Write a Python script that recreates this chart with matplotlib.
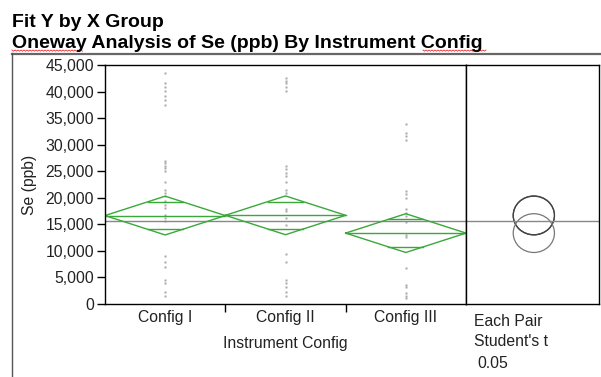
import numpy as np
import matplotlib
matplotlib.use('Agg')
import matplotlib.pyplot as plt
from matplotlib.patches import Ellipse
from matplotlib.ticker import FixedLocator, FuncFormatter

plt.rcParams['font.family'] = ['Liberation Sans', 'DejaVu Sans']

groups = ['Config I', 'Config II', 'Config III']

# Se (ppb) values for each instrument config
se_cfg1 = [43500, 41540, 40780, 40030, 39200, 38440, 37440,
           26900, 26470, 25960, 25520, 25010, 22940,
           21550, 20930, 20290, 19350, 18720, 18090,
           16830, 16200, 15560, 9080, 8000, 7050, 4540, 3910, 2210, 1570]
se_cfg2 = [42540, 42040, 41540, 40780, 40030,
           25960, 25330, 24710, 24070, 22940, 21550, 20930,
           17960, 17450, 16200, 14800, 9400, 8000,
           4540, 3910, 3280, 2210, 1570]
se_cfg3 = [33840, 32270, 31630, 30820, 21230, 20740, 19980,
           17960, 17150, 16500, 15370, 13050, 12540,
           6750, 3590, 3160, 2020, 1570, 1190]

# group means and 95% CI half widths
means = [16650, 16700, 13350]
ci_half = [3650, 3650, 3650]
grand_mean = 15690

green = '#3aa83a'
txt = '#222222'
fs = 11.3
fig = plt.figure(figsize=(6.01, 3.77), dpi=100)

ax = fig.add_axes([105/601, 1-304/377, 361/601, 239/377])
ax2 = fig.add_axes([466/601, 1-304/377, 133/601, 239/377])

for i, vals in enumerate([se_cfg1, se_cfg2, se_cfg3]):
    ax.plot(np.full(len(vals), i + 0.5), vals, 's', ms=1.9, color='#a8a8a8', mec='none')

ax.axhline(grand_mean, color='#888888', lw=1)

for i in range(3):
    m, c = means[i], ci_half[i]
    ax.plot([i, i + 0.5, i + 1, i + 0.5, i], [m, m + c, m, m - c, m], color=green, lw=1)
    ax.plot([i, i + 1], [m, m], color=green, lw=1)
    # overlap marks, drawn edge to edge inside the diamond
    d = c / np.sqrt(2)
    hw = 0.5 * (1 - d / c)
    for y in (m + d, m - d):
        ax.plot([i + 0.5 - hw, i + 0.5 + hw], [y, y], color=green, lw=1)

ax.set_xlim(0, 3)
ax.set_ylim(0, 45000)
ax.yaxis.set_major_locator(FixedLocator(np.arange(0, 45001, 5000)))
ax.yaxis.set_major_formatter(FuncFormatter(lambda v, p: f'{v:,.0f}'))
ax.xaxis.set_major_locator(FixedLocator([1, 2]))
ax.xaxis.set_minor_locator(FixedLocator([0.5, 1.5, 2.5]))
ax.set_xticklabels([], minor=False)
ax.set_xticklabels(groups, minor=True)
ax.tick_params(axis='x', which='minor', length=0, labelsize=fs, pad=4, colors=txt)
ax.tick_params(axis='x', which='major', length=6, width=1)
ax.tick_params(axis='y', length=6, width=1, labelsize=fs, labelcolor=txt, pad=2)
ax.set_ylabel('Se (ppb)', fontsize=fs, color=txt, labelpad=6)
ax.set_xlabel('Instrument Config', fontsize=fs, color=txt, labelpad=8)
for s in ax.spines.values():
    s.set_linewidth(1)

# comparison circles
ax2.axhline(grand_mean, color='#888888', lw=1)
circ_cols = ['#444444', '#444444', '#777777']
for i in range(3):
    ax2.add_patch(Ellipse((0.51, means[i]), 0.31, 2 * ci_half[i], fill=False,
                          ec=circ_cols[i], lw=0.9))
ax2.set_xlim(0, 1)
ax2.set_ylim(0, 45000)
ax2.set_xticks([])
ax2.set_yticks([])
for s in ax2.spines.values():
    s.set_linewidth(1)
fig.text(474/601, 1-321/377, 'Each Pair', fontsize=fs, va='center', color=txt)
fig.text(474/601, 1-342/377, "Student's t", fontsize=fs, va='center', color=txt)
fig.text(477/601, 1-363/377, '0.05', fontsize=fs, va='center', color=txt)

# header
fig.text(12/601, 1-27/377, 'Fit Y by X Group', fontsize=14, fontweight='bold', va='baseline')
fig.text(12/601, 1-48/377, 'Oneway Analysis of Se (ppb) By Instrument Config',
         fontsize=14, fontweight='bold', va='baseline')
fig.add_artist(plt.Line2D([12/601, 1], [1-53.5/377, 1-53.5/377], color='#666666', lw=1.6))
fig.add_artist(plt.Line2D([12/601, 12/601], [0, 1-53/377], color='#555555', lw=1))

# spell-check squiggles
for x0, x1 in [(12, 83), (423, 486)]:
    xs = np.arange(x0, x1 + 1, 1.5)
    ys = 50 + np.where(np.arange(len(xs)) % 2 == 0, 0, 1.2)
    fig.add_artist(plt.Line2D(xs/601, 1-ys/377, color='#e03030', lw=0.6))

fig.savefig('out.png', dpi=100)
